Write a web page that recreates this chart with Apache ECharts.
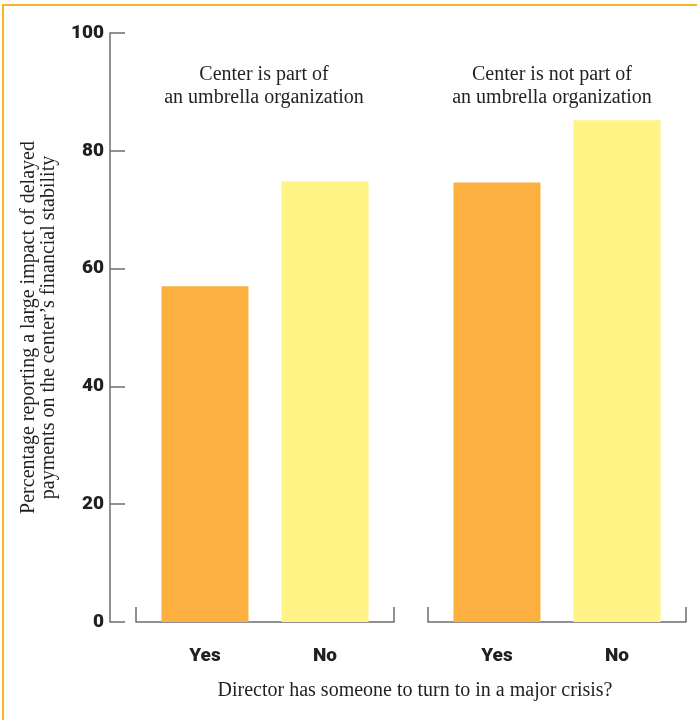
<!DOCTYPE html>
<html>
<head>
<meta charset="utf-8">
<script src="https://cdn.jsdelivr.net/npm/echarts@6/dist/echarts.min.js"></script>
<style>
  html, body { margin: 0; padding: 0; background: #fff; }
  #wrap { position: relative; width: 697px; height: 720px; }
  #chart { position: absolute; left: 0; top: 0; width: 697px; height: 720px; }
  #frame { position: absolute; left: 2px; top: 4px; width: 700px; height: 720px;
           border-top: 2px solid #f9b423; border-left: 2px solid #f9b423; pointer-events: none; }
</style>
</head>
<body>
<div id="wrap">
  <div id="chart"></div>
  <div id="frame"></div>
</div>
<script>
// ---- data ----
const answers = ['Yes', 'No'];
const groups = ['Center is part of\nan umbrella organization', 'Center is not part of\nan umbrella organization'];
const yesValues = [57, 74.6];
const noValues = [74.8, 85.2];
const yTicks = [0, 20, 40, 60, 80, 100];
const yAxisTitle = 'Percentage reporting a large impact of delayed\npayments on the center\u2019s financial stability';
const xAxisTitle = 'Director has someone to turn to in a major crisis?';

// ---- styles ----
const serif = '"Liberation Serif", "DejaVu Serif", serif';
const heavy = 'Roboto, "Liberation Sans", sans-serif';
const ink = '#231f20';
const axisGray = '#6d6e71';
const answerColors = ['#fbb040', '#fff385'];

const chart = echarts.init(document.getElementById('chart'));

const gridLefts = [136, 428];
const grids = gridLefts.map(l => ({ left: l, width: 258, top: 33, bottom: 98 }));

const xAxes = groups.map((g, i) => ({
  type: 'category', gridIndex: i, data: [g],
  axisLine: { show: true, lineStyle: { color: axisGray, width: 1.5 } },
  axisTick: { show: true, inside: true, length: 15, lineStyle: { color: axisGray, width: 1.5 } },
  axisLabel: { show: false }
}));

const yAxes = groups.map((g, i) => ({
  type: 'value', gridIndex: i, min: yTicks[0], max: yTicks[yTicks.length - 1],
  interval: yTicks[1] - yTicks[0],
  show: i === 0,
  offset: 26,
  name: i === 0 ? yAxisTitle : '',
  nameLocation: 'middle', nameGap: 51, nameRotate: 90,
  nameTextStyle: { fontFamily: serif, fontSize: 20, color: ink, lineHeight: 20 },
  axisLine: { show: true, lineStyle: { color: axisGray, width: 1.5 } },
  axisTick: { show: true, inside: true, length: 15, lineStyle: { color: axisGray, width: 1.5 } },
  axisLabel: { margin: 6, fontFamily: heavy, fontWeight: 900, fontSize: 19, color: ink },
  splitLine: { show: false }
}));

const series = [];
groups.forEach((g, i) => {
  [yesValues[i], noValues[i]].forEach((v, k) => {
    series.push({
      type: 'bar', name: answers[k], xAxisIndex: i, yAxisIndex: i,
      data: [v], barWidth: 87, barGap: '38%',
      itemStyle: { color: answerColors[k] },
      label: { show: true, position: 'bottom', distance: 25, formatter: '{a}',
               fontFamily: heavy, fontWeight: 900, fontSize: 19, color: ink },
      silent: true
    });
  });
});

const titles = [
  { text: groups[0], left: 259, top: 58, textAlign: 'center' },
  { text: groups[1], left: 547, top: 58, textAlign: 'center' },
  { text: xAxisTitle, left: 410, top: 674, textAlign: 'center' }
].map(t => Object.assign(t, {
  textStyle: { fontFamily: serif, fontSize: 20, fontWeight: 'normal', color: ink, lineHeight: 23 }
}));

chart.setOption({
  animation: false,
  title: titles,
  grid: grids,
  xAxis: xAxes,
  yAxis: yAxes,
  series: series
});
</script>
</body>
</html>
